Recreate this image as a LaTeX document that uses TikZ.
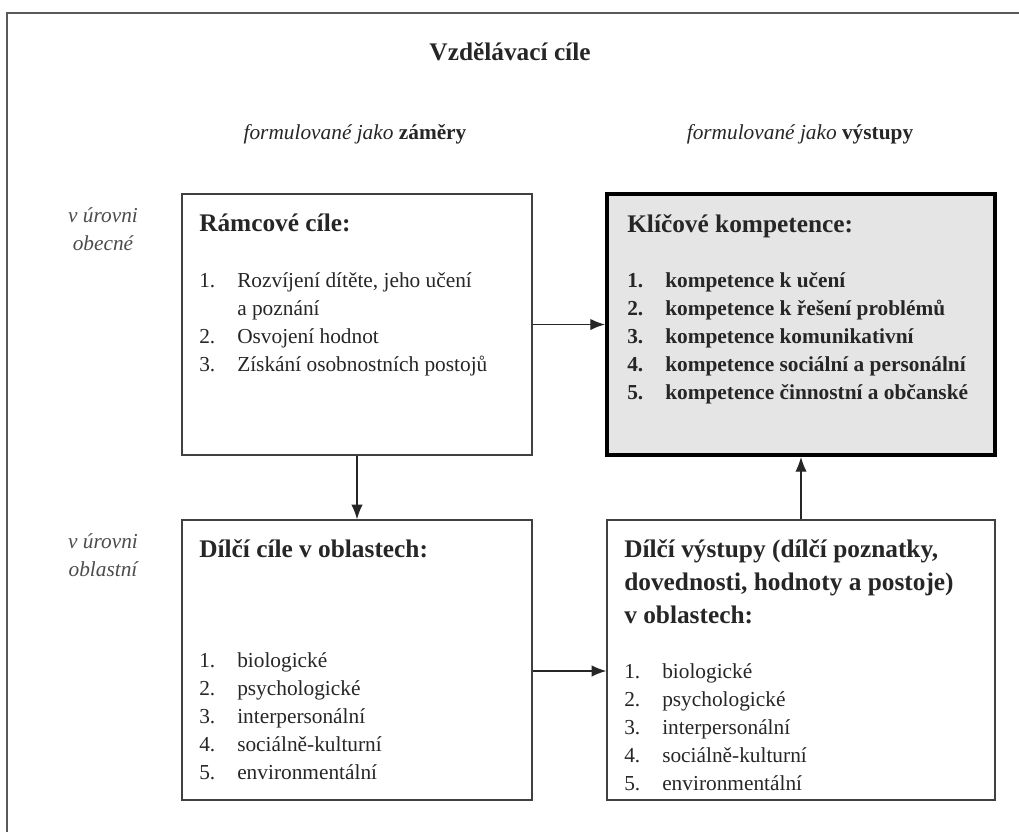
\documentclass[tikz,border=0pt]{standalone}
\usepackage{fontspec}
\setmainfont{Liberation Serif}
\usetikzlibrary{arrows.meta,positioning}
\tikzset{
  ramec/.style={draw=black!75,line width=1pt,fill=white},
  klic/.style={draw=black,line width=3pt,fill=black!10},
  sipka/.style={-{Latex[length=11pt,width=8.5pt]},line width=0.9pt,black!85},
  nadpis/.style={anchor=base west,inner sep=0pt,font=\fontsize{19}{24.75}\selectfont\bfseries},
  polozky/.style={anchor=base west,inner sep=0pt,font=\fontsize{16}{21}\selectfont},
  uroven/.style={anchor=base,inner sep=0pt,font=\fontsize{16}{21}\selectfont\itshape,text=black!70},
}
\newcommand{\seznam}[1]{\begin{tabular}[t]{@{}p{28.5pt}@{}l@{}}#1\end{tabular}}

\begin{document}
\begin{tikzpicture}[x=0.75pt,y=-0.75pt,text=black!85]
  \useasboundingbox (0,0) rectangle (1019,831);
  % vnejsi ramecek, vpravo a dole oriznuty
  \draw[black!65,line width=1.2pt] (7,860) -- (7,13) -- (1050,13);

  \node[anchor=base,inner sep=0pt,font=\fontsize{19}{24}\selectfont\bfseries] (titul) at (510,61) {Vzdělávací cíle};
  \node[anchor=base,inner sep=0pt,font=\fontsize{16}{21}\selectfont] (zamery) at (355,140) {\textit{formulované jako} \textbf{záměry}};
  \node[anchor=base,inner sep=0pt,font=\fontsize{16}{21}\selectfont] (vystupy) at (800,140) {\textit{formulované jako} \textbf{výstupy}};

  \node[uroven] (obecna) at (103,222) {\begin{tabular}[t]{@{}c@{}}v úrovni\\obecné\end{tabular}};
  \node[uroven] (oblastni) at (103,548) {\begin{tabular}[t]{@{}c@{}}v úrovni\\oblastní\end{tabular}};

  % ramecky
  \node[ramec,minimum width=262.5pt,minimum height=195.75pt] (ramcove) at (357,324.5) {};
  \node[klic,minimum width=291pt,minimum height=195.75pt] (klicove) at (801,324.5) {};
  \node[ramec,minimum width=262.5pt,minimum height=210pt] (dilcicile) at (357,660) {};
  \node[ramec,minimum width=291pt,minimum height=210pt] (dilcivyst) at (801,660) {};

  % texty v rameccich
  \node[nadpis] (ramcovenadp) at (199,231) {Rámcové cíle:};
  \node[polozky] (ramcovesez) at (199,287) {\seznam{1. & Rozvíjení dítěte, jeho učení\\ & a poznání\\ 2. & Osvojení hodnot\\ 3. & Získání osobnostních postojů}};

  \node[nadpis] (klicovenadp) at (627,232) {Klíčové kompetence:};
  \node[polozky,font=\fontsize{16}{21}\selectfont\bfseries] (klicovesez) at (627,287) {\seznam{1. & kompetence k učení\\ 2. & kompetence k řešení problémů\\ 3. & kompetence komunikativní\\ 4. & kompetence sociální a personální\\ 5. & kompetence činnostní a občanské}};

  \node[nadpis] (dilcicilenadp) at (199,557) {Dílčí cíle v oblastech:};
  \node[polozky] (dilcicilesez) at (199,667) {\seznam{1. & biologické\\ 2. & psychologické\\ 3. & interpersonální\\ 4. & sociálně-kulturní\\ 5. & environmentální}};

  \node[nadpis] (dilcivystnadp) at (624,557) {\begin{tabular}[t]{@{}l@{}}Dílčí výstupy (dílčí poznatky,\\ dovednosti, hodnoty a postoje)\\ v oblastech:\end{tabular}};
  \node[polozky] (dilcivystsez) at (624,678) {\seznam{1. & biologické\\ 2. & psychologické\\ 3. & interpersonální\\ 4. & sociálně-kulturní\\ 5. & environmentální}};

  % sipky
  \draw[sipka] (ramcove) -- (klicove);
  \draw[sipka] (ramcove) -- (dilcicile);
  \draw[sipka] (dilcivyst) -- (klicove);
  \draw[sipka] ([yshift=-8.25pt]dilcicile.east) -- ([yshift=-8.25pt]dilcivyst.west);
\end{tikzpicture}
\end{document}
